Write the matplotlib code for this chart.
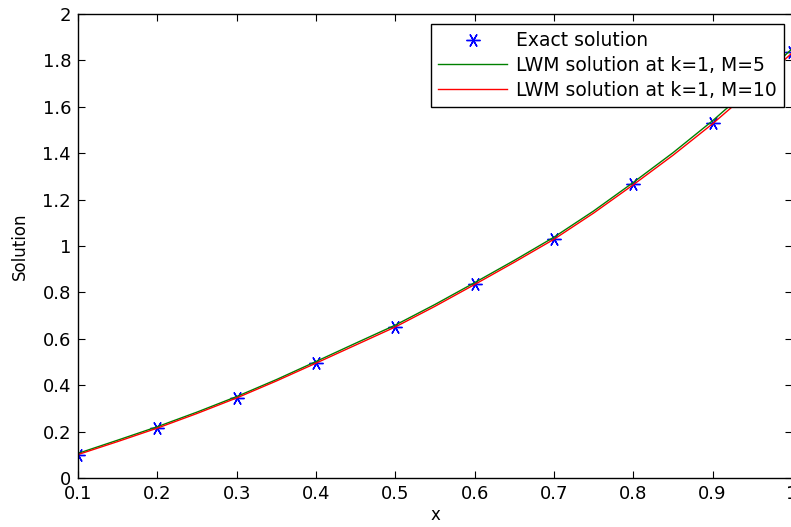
import matplotlib
matplotlib.use('Agg')
import matplotlib.pyplot as plt
import numpy as np
from matplotlib.ticker import FuncFormatter

# exact solution at the nodes
x_exact = [0.1, 0.2, 0.3, 0.4, 0.5, 0.6, 0.7, 0.8, 0.9, 1.0]
y_exact = [0.100, 0.215, 0.345, 0.494, 0.651, 0.836, 1.030, 1.267, 1.530, 1.836]

# LWM approximations
x_lwm = [0.1, 0.15, 0.2, 0.25, 0.3, 0.35, 0.4, 0.45, 0.5, 0.55,
         0.6, 0.65, 0.7, 0.75, 0.8, 0.85, 0.9, 0.95, 1.0]
y_m5 = [0.106, 0.163, 0.221, 0.284, 0.351, 0.424, 0.502, 0.581, 0.659, 0.748,
        0.842, 0.938, 1.038, 1.151, 1.274, 1.402, 1.540, 1.690, 1.850]
y_m10 = [0.101, 0.157, 0.215, 0.278, 0.345, 0.418, 0.495, 0.573, 0.651, 0.740,
         0.834, 0.930, 1.029, 1.142, 1.264, 1.391, 1.527, 1.675, 1.832]

xticks = [0.1, 0.2, 0.3, 0.4, 0.5, 0.6, 0.7, 0.8, 0.9, 1.0]
yticks = [0, 0.2, 0.4, 0.6, 0.8, 1.0, 1.2, 1.4, 1.6, 1.8, 2.0]

plt.rcParams['font.family'] = ['DejaVu Sans']
plt.rcParams['font.size'] = 13

fig = plt.figure(figsize=(7.91, 5.27), dpi=100)
ax = fig.add_axes([0.0986, 0.093, 0.9026, 0.8804])

ax.plot(x_exact, y_exact, linestyle='none', marker=(6, 2, 90), markersize=10,
        markeredgewidth=1.0, color='#0000ff', label='Exact solution')
ax.plot(x_lwm, y_m5, color='#008000', linewidth=1.0,
        label='LWM solution at k=1, M=5')
ax.plot(x_lwm, y_m10, color='#ff0000', linewidth=1.0,
        label='LWM solution at k=1, M=10')

ax.set_xlim(0.1, 1.0)
ax.set_ylim(0, 2)
ax.set_xticks(xticks)
ax.set_yticks(yticks)
fmt = FuncFormatter(lambda v, p: '%g' % round(v, 2))
ax.xaxis.set_major_formatter(fmt)
ax.yaxis.set_major_formatter(fmt)
ax.tick_params(direction='in', length=5, width=0.8, top=True, right=True,
               labelsize=13, pad=5)
for s in ax.spines.values():
    s.set_linewidth(1.0)

ax.set_xlabel('x', fontsize=12, labelpad=2)
ax.set_ylabel('Solution', fontsize=12, labelpad=10)

leg = ax.legend(loc='upper right', bbox_to_anchor=(0.989, 0.979), borderaxespad=0,
                fancybox=False, framealpha=1, edgecolor='black',
                handlelength=3.7, handletextpad=0.45, labelspacing=0.3,
                borderpad=0.4, fontsize=13.5)
leg.get_frame().set_linewidth(1.0)

fig.savefig('out.png', dpi=100)
